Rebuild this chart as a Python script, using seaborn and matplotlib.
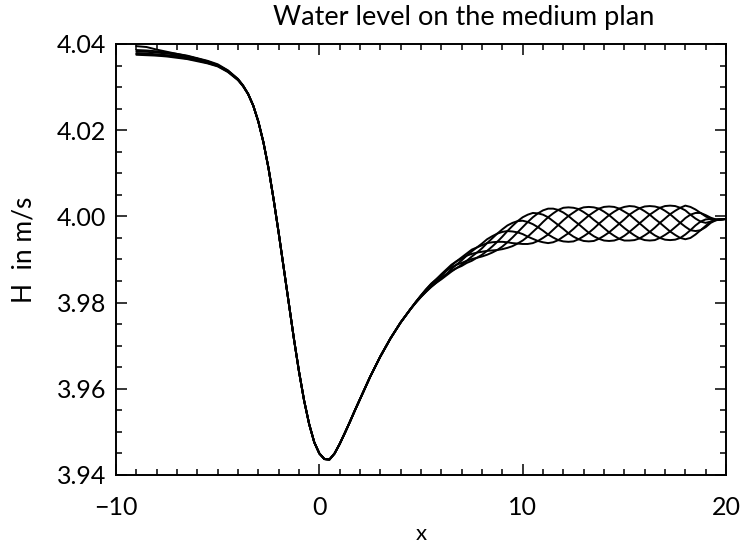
import numpy as np
import pandas as pd
import matplotlib
matplotlib.use("Agg")
import matplotlib.pyplot as plt
import seaborn as sns
from matplotlib.ticker import MultipleLocator

# ---------------- data ----------------
# left / middle part, shared by all curves
x_left = [-9, -8.5, -8, -7.5, -7, -6.5, -6, -5.5, -5, -4.5, -4,
          -3.75, -3.5, -3.25, -3, -2.75, -2.5, -2.25, -2, -1.75, -1.5, -1.25,
          -1, -0.75, -0.5, -0.25, 0, 0.25, 0.5, 0.75, 1, 1.25, 1.5, 1.75, 2,
          2.5, 3, 3.5, 4, 4.5]
h_left = [4.0382, 4.0381, 4.0379, 4.0377, 4.0374, 4.0370, 4.0365, 4.0359, 4.0351, 4.0338, 4.0318,
          4.0303, 4.0284, 4.0257, 4.0220, 4.0172, 4.0112, 4.0040, 3.9962, 3.9880, 3.9798, 3.9716,
          3.9640, 3.9573, 3.9518, 3.9476, 3.9450, 3.9437, 3.9436, 3.9450, 3.9472, 3.9497, 3.9523,
          3.9550, 3.9576, 3.9628, 3.9675, 3.9717, 3.9754, 3.9786]

# spread of the curves at the upstream end (units of 1e-4), x = -9 ... -3
lead_0 = [13, 12, 8, 5, 3, 2, 1, 1, 0, 0, 0, 0, 0, 0, 0]
lead_1 = [4, 4, 4, 3, 3, 3, 2, 2, 2, 1, 1, 1, 0, 0, 0]
lead_2 = [1, 1, 1, 1, 1, 1, 1, 0, 0, 0, 0, 0, 0, 0, 0]
lead_3 = [-3, -3, -3, -3, -2, -2, -2, -2, -1, -1, -1, 0, 0, 0, 0]
lead_4 = [-5, -5, -5, -4, -4, -4, -3, -3, -2, -2, -1, -1, 0, 0, 0]
lead_5 = [-7, -7, -6, -6, -6, -5, -5, -4, -3, -3, -2, -1, -1, 0, 0]

# right part: mean level and the oscillation of each curve (units of 1e-4)
x_right = [4.75, 5.0, 5.25, 5.5, 5.75, 6.0, 6.25, 6.5, 6.75, 7.0,
           7.25, 7.5, 7.75, 8.0, 8.25, 8.5, 8.75, 9.0, 9.25, 9.5,
           9.75, 10.0, 10.25, 10.5, 10.75, 11.0, 11.25, 11.5, 11.75, 12.0,
           12.25, 12.5, 12.75, 13.0, 13.25, 13.5, 13.75, 14.0, 14.25, 14.5,
           14.75, 15.0, 15.25, 15.5, 15.75, 16.0, 16.25, 16.5, 16.75, 17.0,
           17.25, 17.5, 17.75, 18.0, 18.25, 18.5, 18.75, 19.0, 19.25, 19.5,
           19.75, 20.0]
h_right = [3.9801, 3.9815, 3.9828, 3.9840, 3.9850, 3.9860, 3.9870, 3.9880, 3.9888, 3.9895,
           3.9903, 3.9910, 3.9916, 3.9922, 3.9929, 3.9935, 3.9941, 3.9947, 3.9953, 3.9958,
           3.9963, 3.9967, 3.9970, 3.9973, 3.9975, 3.9977, 3.9978, 3.9979, 3.9980, 3.9981,
           3.9981, 3.9981, 3.9982, 3.9982, 3.9982, 3.9982, 3.9983, 3.9983, 3.9983, 3.9983,
           3.9983, 3.9983, 3.9984, 3.9984, 3.9984, 3.9984, 3.9984, 3.9984, 3.9985, 3.9985,
           3.9985, 3.9985, 3.9985, 3.9986, 3.9986, 3.9987, 3.9988, 3.9989, 3.9991, 3.9992,
           3.9993, 3.9994]

wave_0 = [0, 1, 2, 3, 4, 6, 7, 8, 8, 7,
          6, 3, 0, -4, -9, -14, -19, -23, -26, -27,
          -26, -23, -17, -9, 0, 10, 20, 28, 35, 39,
          40, 39, 35, 28, 20, 10, 0, -10, -20, -28,
          -35, -39, -40, -39, -35, -28, -20, -10, 0, 10,
          20, 28, 35, 39, 36, 29, 20, 11, 3, 0,
          0, 0]
wave_1 = [1, 2, 3, 4, 4, 4, 4, 2, 0, -3,
          -6, -9, -12, -15, -18, -19, -19, -17, -13, -7,
          0, 8, 17, 25, 32, 37, 40, 39, 35, 28,
          20, 10, 0, -10, -20, -28, -35, -39, -40, -39,
          -35, -28, -20, -10, 0, 10, 20, 28, 35, 39,
          40, 39, 35, 28, 18, 8, 0, -4, -3, -1,
          0, 0]
wave_2 = [1, 1, 2, 1, 0, -2, -4, -6, -8, -10,
          -11, -13, -12, -11, -9, -5, 0, 6, 13, 20,
          26, 31, 34, 35, 32, 27, 20, 10, 0, -10,
          -20, -28, -35, -39, -40, -39, -35, -28, -20, -10,
          0, 10, 20, 28, 35, 39, 40, 39, 35, 28,
          20, 10, 0, -10, -18, -21, -20, -14, -6, -1,
          0, 0]
wave_3 = [0, -1, -2, -3, -4, -6, -7, -8, -8, -7,
          -6, -3, 0, 4, 9, 14, 19, 23, 26, 27,
          26, 23, 17, 9, 0, -10, -20, -28, -35, -39,
          -40, -39, -35, -28, -20, -10, 0, 10, 20, 28,
          35, 39, 40, 39, 35, 28, 20, 10, 0, -10,
          -20, -28, -35, -39, -36, -29, -20, -11, -3, 0,
          0, 0]
wave_4 = [-1, -2, -3, -4, -4, -4, -4, -2, 0, 3,
          6, 9, 12, 15, 18, 19, 19, 17, 13, 7,
          0, -8, -17, -25, -32, -37, -40, -39, -35, -28,
          -20, -10, 0, 10, 20, 28, 35, 39, 40, 39,
          35, 28, 20, 10, 0, -10, -20, -28, -35, -39,
          -40, -39, -35, -28, -18, -8, 0, 4, 3, 1,
          0, 0]
wave_5 = [-1, -1, -2, -1, 0, 2, 4, 6, 8, 10,
          11, 13, 12, 11, 9, 5, 0, -6, -13, -20,
          -26, -31, -34, -35, -32, -27, -20, -10, 0, 10,
          20, 28, 35, 39, 40, 39, 35, 28, 20, 10,
          0, -10, -20, -28, -35, -39, -40, -39, -35, -28,
          -20, -10, 0, 10, 18, 21, 20, 14, 6, 1,
          0, 0]

leads = [lead_0, lead_1, lead_2, lead_3, lead_4, lead_5]
waves = [wave_0, wave_1, wave_2, wave_3, wave_4, wave_5]

y_ticks = [3.94, 3.96, 3.98, 4.00, 4.02, 4.04]
y_tick_labels = ["3.94", "3.96", "3.98", "4.00", "4.02", "4.04"]
x_ticks = [-10, 0, 10, 20]

# ---------------- build long table ----------------
rows = []
for k in range(6):
    lead = leads[k] + [0] * (len(x_left) - len(leads[k]))
    for xv, b, d in zip(x_left, h_left, lead):
        rows.append((k, xv, b + d * 1e-4))
    for xv, b, d in zip(x_right, h_right, waves[k]):
        rows.append((k, xv, b + d * 1e-4))
df = pd.DataFrame(rows, columns=["curve", "x", "H"])

# ---------------- plot ----------------
sns.set_style("ticks")
plt.rcParams["font.family"] = ["Lato", "DejaVu Sans"]
plt.rcParams["font.weight"] = "normal"
plt.rcParams["text.color"] = "black"
plt.rcParams["xtick.labelcolor"] = "black"
plt.rcParams["ytick.labelcolor"] = "black"

fig = plt.figure(figsize=(7.42, 5.45), dpi=100)
ax = fig.add_axes([116 / 742, 1 - 475 / 545, 610 / 742, 431 / 545])

sns.lineplot(data=df, x="x", y="H", units="curve", estimator=None,
             color="black", lw=1.4, sort=False, ax=ax)

ax.set_xlim(-10, 20)
ax.set_ylim(3.94, 4.04)
ax.set_xticks(x_ticks)
ax.set_yticks(y_ticks)
ax.set_yticklabels(y_tick_labels)
ax.xaxis.set_minor_locator(MultipleLocator(1))
ax.yaxis.set_minor_locator(MultipleLocator(0.005))
ax.tick_params(which="both", direction="in", top=True, right=True,
               width=1.1, colors="black", labelcolor="black")
ax.tick_params(which="major", length=8, labelsize=18)
ax.tick_params(which="minor", length=4.5)
ax.tick_params(axis="x", which="major", pad=15)
ax.tick_params(axis="y", which="major", pad=7)
for s in ax.spines.values():
    s.set_linewidth(1.4)
    s.set_color("black")
ax.set_xlabel("")
ax.set_ylabel("")

fig.text(464 / 742, 1 - 18 / 545, "Water level on the medium plan",
         ha="center", va="center", fontsize=19.5, color="black")
fig.text(24 / 742, 1 - 250 / 545, "H  in m/s", rotation=90,
         ha="center", va="center", fontsize=19, color="black")
fig.text(421 / 742, 1 - 534 / 545, "x", ha="center", va="center",
         fontsize=16, color="black")

fig.savefig("out.png", dpi=100)
